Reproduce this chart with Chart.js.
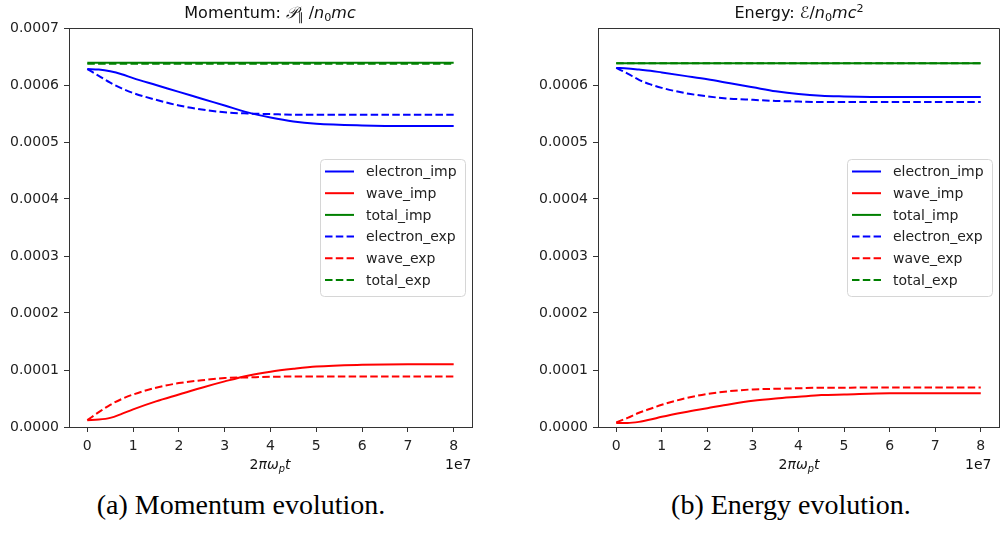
<!DOCTYPE html>
<html>
<head>
<meta charset="utf-8">
<script src="https://cdn.jsdelivr.net/npm/chart.js@4/dist/chart.umd.min.js"></script>
<style>
  body { margin: 0; width: 1000px; height: 535px; position: relative; background: #fff; overflow: hidden; font-family: "DejaVu Sans", sans-serif; color: #111; }
  canvas { position: absolute; top: 0; }
  .title { position: absolute; top: 3px; width: 400px; text-align: center; font-size: 16px; white-space: nowrap; }
  .xlab { position: absolute; top: 456px; width: 200px; text-align: center; font-size: 14px; white-space: nowrap; }
  .offset { position: absolute; top: 456px; font-size: 14px; }
  .cap { position: absolute; top: 489px; width: 480px; text-align: center; font-family: "Liberation Serif", serif; font-size: 28px; white-space: nowrap; color: #000; }
  i { font-style: italic; }
  sub { font-size: 70%; vertical-align: -0.3em; line-height: 0; }
  sup { font-size: 70%; vertical-align: 0.55em; line-height: 0; }
</style>
</head>
<body>
<canvas id="momChart" width="490" height="460" style="left:0px"></canvas>
<canvas id="enChart" width="490" height="460" style="left:510px"></canvas>

<div class="title" style="left:70px">Momentum: <i>𝒫</i><sub>∥</sub> /<i>n</i><sub>0</sub><i>mc</i></div>
<div class="title" style="left:599px">Energy: <i>ℰ</i>/<i>n</i><sub>0</sub><i>mc</i><sup>2</sup></div>
<div class="xlab" style="left:170px">2<i>πω</i><sub><i>p</i></sub><i>t</i></div>
<div class="xlab" style="left:699px">2<i>πω</i><sub><i>p</i></sub><i>t</i></div>
<div class="offset" style="left:445px">1e7</div>
<div class="offset" style="left:965px">1e7</div>
<div class="cap" style="left:1px">(a) Momentum evolution.</div>
<div class="cap" style="left:551px">(b) Energy evolution.</div>

<script>
// time axis, in units of 1e7
const tVals = [0, 0.25, 0.5, 0.75, 1, 1.5, 2, 2.5, 3, 3.5, 4, 4.5, 5, 6, 7, 8];
const xTicks = [0, 1, 2, 3, 4, 5, 6, 7, 8];
const seriesNames = ['electron_imp', 'wave_imp', 'total_imp', 'electron_exp', 'wave_exp', 'total_exp'];

// momentum panel
const momElectronImp = [0.000628, 0.000627, 0.000624, 0.000619, 0.000612, 0.000600, 0.000588, 0.000576, 0.000564, 0.000552, 0.000543, 0.000536, 0.000532, 0.000529, 0.000528, 0.000528];
const momWaveImp     = [0.000012, 0.000013, 0.000016, 0.000023, 0.000031, 0.000045, 0.000057, 0.000069, 0.000080, 0.000090, 0.000097, 0.000102, 0.000106, 0.000109, 0.000110, 0.000110];
const momTotalImp    = [0.000639, 0.000639, 0.000639, 0.000639, 0.000639, 0.000639, 0.000639, 0.000639, 0.000639, 0.000639, 0.000639, 0.000639, 0.000639, 0.000639, 0.000639, 0.000639];
const momElectronExp = [0.000628, 0.000616, 0.000604, 0.000594, 0.000586, 0.000574, 0.000564, 0.000557, 0.000552, 0.000550, 0.000549, 0.000548, 0.000548, 0.000548, 0.000548, 0.000548];
const momWaveExp     = [0.000012, 0.000026, 0.000039, 0.000049, 0.000057, 0.000069, 0.000077, 0.000082, 0.000086, 0.000087, 0.000088, 0.0000885, 0.0000885, 0.0000885, 0.0000885, 0.0000885];
const momTotalExp    = [0.0006375, 0.0006375, 0.0006375, 0.0006375, 0.0006375, 0.0006375, 0.0006375, 0.0006375, 0.0006375, 0.0006375, 0.0006375, 0.0006375, 0.0006375, 0.0006375, 0.0006375, 0.0006375];
const momYTicks = [0, 0.0001, 0.0002, 0.0003, 0.0004, 0.0005, 0.0006, 0.0007];

// energy panel
const enElectronImp = [0.000630, 0.000629, 0.000627, 0.000625, 0.000622, 0.000616, 0.000610, 0.000603, 0.000596, 0.000589, 0.000584, 0.000581, 0.000580, 0.000579, 0.000579, 0.000579];
const enWaveImp     = [0.000007, 0.000007, 0.000009, 0.000013, 0.000018, 0.000026, 0.000033, 0.000040, 0.000046, 0.000050, 0.000053, 0.000056, 0.000057, 0.000059, 0.000059, 0.000059];
const enTotalImp    = [0.000638, 0.000638, 0.000638, 0.000638, 0.000638, 0.000638, 0.000638, 0.000638, 0.000638, 0.000638, 0.000638, 0.000638, 0.000638, 0.000638, 0.000638, 0.000638];
const enElectronExp = [0.000630, 0.000620, 0.000609, 0.000601, 0.000595, 0.000586, 0.000580, 0.000576, 0.000574, 0.000572, 0.000571, 0.000570, 0.000570, 0.000570, 0.000570, 0.000570];
const enWaveExp     = [0.000008, 0.000016, 0.000025, 0.000032, 0.000039, 0.000050, 0.000058, 0.000063, 0.000066, 0.000067, 0.000068, 0.000069, 0.000069, 0.0000695, 0.0000695, 0.0000695];
const enTotalExp    = [0.000638, 0.000638, 0.000638, 0.000638, 0.000638, 0.000638, 0.000638, 0.000638, 0.000638, 0.000638, 0.000638, 0.000638, 0.000638, 0.000638, 0.000638, 0.000638];
const enYTicks = [0, 0.0001, 0.0002, 0.0003, 0.0004, 0.0005, 0.0006];

const colors = ['#0000ff', '#ff0000', '#008000', '#0000ff', '#ff0000', '#008000'];
const dashPat = [7.5, 3.3];
const axisColor = '#333';
const textColor = '#222';

// top / right spines
const framePlugin = {
  id: 'frame',
  afterDraw(chart) {
    const a = chart.chartArea, ctx = chart.ctx;
    ctx.save();
    ctx.strokeStyle = axisColor;
    ctx.lineWidth = 1;
    ctx.beginPath();
    ctx.moveTo(a.left, a.top + 0.5);
    ctx.lineTo(a.right + 0.5, a.top + 0.5);
    ctx.lineTo(a.right + 0.5, a.bottom);
    ctx.stroke();
    ctx.restore();
  }
};

// matplotlib-ish legend, center right inside the axes
const boxLegend = {
  id: 'boxLegend',
  afterDraw(chart) {
    const a = chart.chartArea, ctx = chart.ctx;
    const w = 145, h = 137;
    const x0 = a.right - 7 - w;
    const y0 = (a.top + a.bottom) / 2 - h / 2;
    ctx.save();
    ctx.fillStyle = 'rgba(255,255,255,0.8)';
    ctx.strokeStyle = '#d6d6d6';
    ctx.lineWidth = 1;
    ctx.beginPath();
    ctx.roundRect(x0 + 0.5, y0 + 0.5, w, h, 4);
    ctx.fill();
    ctx.stroke();
    ctx.font = '14px "DejaVu Sans"';
    ctx.textBaseline = 'middle';
    chart.data.datasets.forEach((ds, i) => {
      const yy = y0 + 12.5 + i * 21.7;
      ctx.strokeStyle = ds.borderColor;
      ctx.lineWidth = 2;
      ctx.setLineDash(ds.borderDash || []);
      ctx.beginPath();
      ctx.moveTo(x0 + 5, yy);
      ctx.lineTo(x0 + 34, yy);
      ctx.stroke();
      ctx.setLineDash([]);
      ctx.fillStyle = textColor;
      ctx.fillText(ds.label, x0 + 46, yy + 1);
    });
    ctx.restore();
  }
};

function makeChart(id, seriesList, yTicks, yWidth, padRight) {
  const datasets = seriesList.map((vals, i) => ({
    label: seriesNames[i],
    data: tVals.map((t, k) => ({ x: t, y: vals[k] })),
    borderColor: colors[i],
    borderWidth: 2,
    borderDash: i >= 3 ? dashPat : [],
    pointRadius: 0,
    fill: false,
    cubicInterpolationMode: 'monotone',
    order: 5 - i
  }));
  return new Chart(document.getElementById(id), {
    type: 'line',
    data: { datasets },
    options: {
      responsive: false,
      animation: false,
      devicePixelRatio: 1,
      layout: { padding: { top: 28, right: padRight, left: 0, bottom: 0 } },
      plugins: { legend: { display: false }, tooltip: { enabled: false } },
      scales: {
        x: {
          type: 'linear',
          min: -0.4,
          max: 8.4,
          afterBuildTicks: s => { s.ticks = xTicks.map(v => ({ value: v })); },
          afterFit: s => { s.height = 33; },
          grid: { drawOnChartArea: false, tickLength: 5, color: axisColor },
          border: { color: axisColor, width: 1 },
          ticks: { color: textColor, font: { family: 'DejaVu Sans', size: 14 }, padding: 6, maxRotation: 0,
            callback: v => String(v) }
        },
        y: {
          min: 0,
          max: 0.0007,
          afterBuildTicks: s => { s.ticks = yTicks.map(v => ({ value: v })); },
          afterFit: s => { s.width = yWidth; },
          grid: { drawOnChartArea: false, tickLength: 5, color: axisColor },
          border: { color: axisColor, width: 1 },
          ticks: { color: textColor, font: { family: 'DejaVu Sans', size: 14 }, padding: 5,
            callback: v => v.toFixed(4) }
        }
      }
    },
    plugins: [framePlugin, boxLegend]
  });
}

makeChart('momChart', [momElectronImp, momWaveImp, momTotalImp, momElectronExp, momWaveExp, momTotalExp], momYTicks, 69, 18);
makeChart('enChart', [enElectronImp, enWaveImp, enTotalImp, enElectronExp, enWaveExp, enTotalExp], enYTicks, 88, 1);
</script>
</body>
</html>
